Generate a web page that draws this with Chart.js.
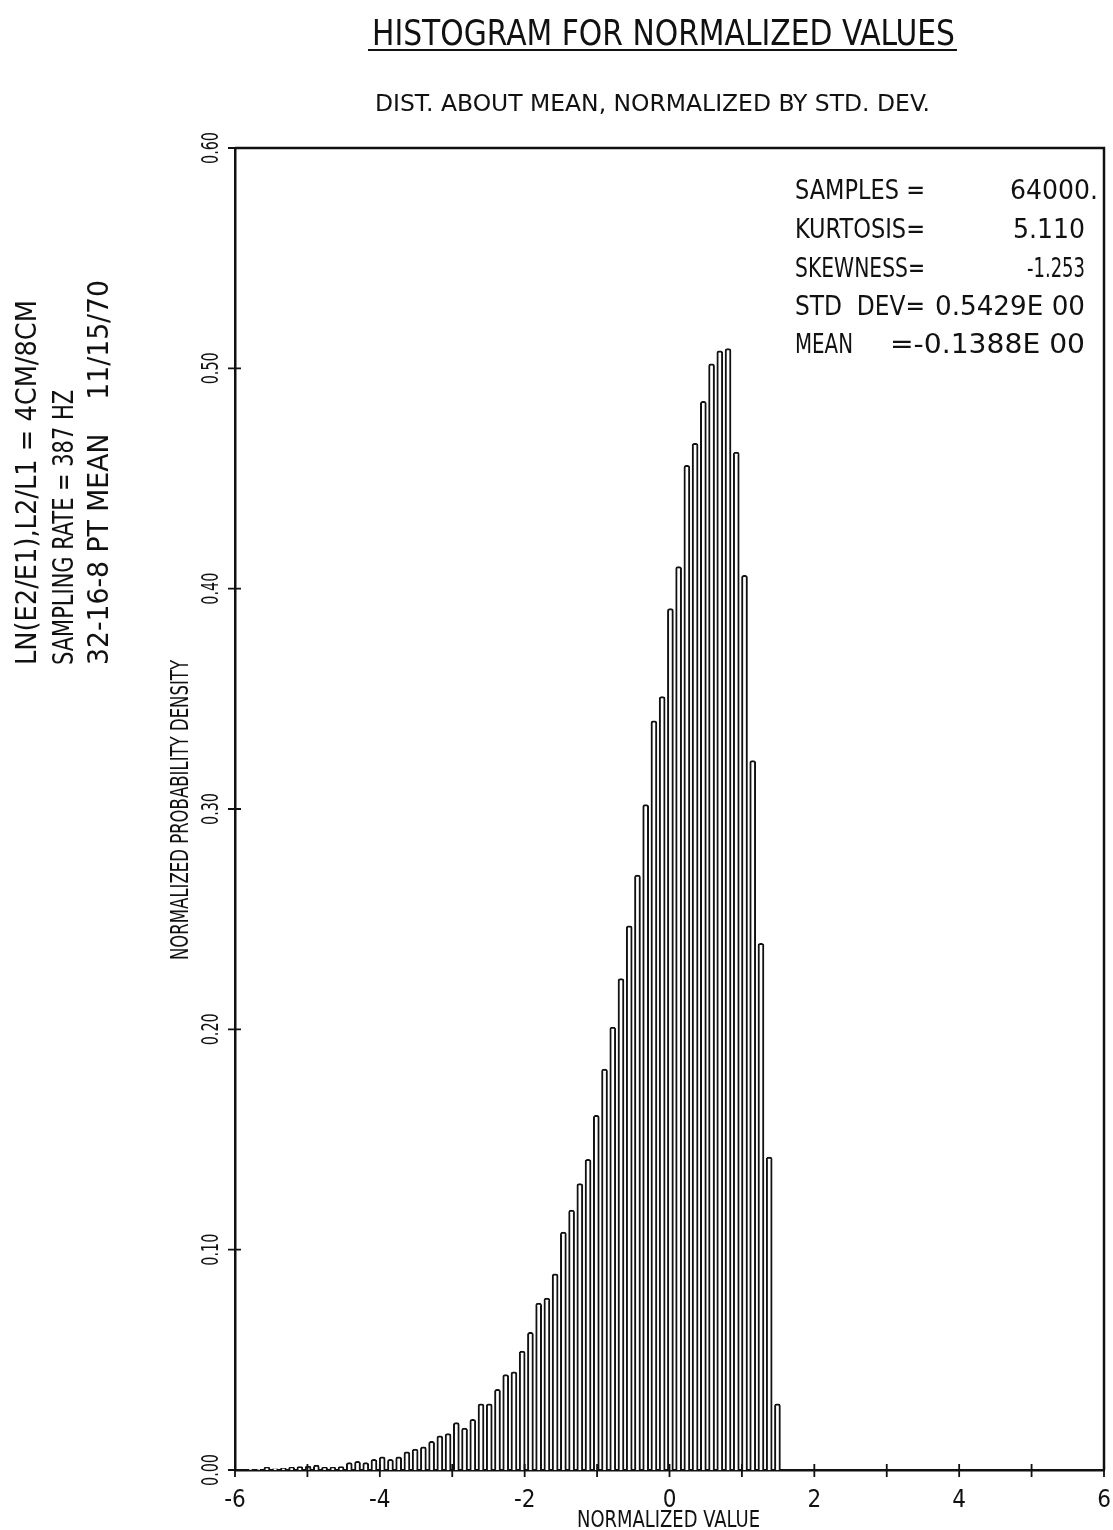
<!DOCTYPE html>
<html>
<head>
<meta charset="utf-8">
<title>Histogram for normalized values</title>
<script src="https://cdn.jsdelivr.net/npm/chart.js@4.4.1/dist/chart.umd.min.js"></script>
<style>
  html, body { margin: 0; padding: 0; background: #fff; }
  #wrap { width: 1113px; height: 1530px; }
</style>
</head>
<body>
<div id="wrap"><canvas id="histChart" width="1113" height="1530"></canvas></div>
<script>
// histogram bins (normalized value), left edge centre and width
const binStart = -5.90;
const binWidth = 0.1137;

// normalized probability density, left to right
const densities = [
    0, 0.0003, 0.0003, 0.0012, 0.0005, 0.0008, 0.0012, 0.0015, 0.0018, 0.0022,
    0.0012, 0.0012, 0.0015, 0.0034, 0.0039, 0.0034, 0.0048, 0.006, 0.0048, 0.006,
    0.0082, 0.0095, 0.0105, 0.013, 0.0155, 0.0165, 0.0215, 0.019, 0.023, 0.030,
    0.030, 0.0366, 0.0433, 0.0446, 0.054, 0.0625, 0.0758, 0.078, 0.089, 0.108,
    0.118, 0.130, 0.141, 0.161, 0.182, 0.201, 0.223, 0.247, 0.270, 0.302,
    0.340, 0.351, 0.391, 0.410, 0.456, 0.466, 0.485, 0.502, 0.508, 0.509,
    0.462, 0.406, 0.322, 0.239, 0.142, 0.030
];

const xTickValues = [-6, -4, -2, 0, 2, 4, 6];
const yTickLabels = ['0.00', '0.10', '0.20', '0.30', '0.40', '0.50', '0.60'];

const titleText = 'HISTOGRAM FOR NORMALIZED VALUES';
const subtitleText = 'DIST. ABOUT MEAN, NORMALIZED BY STD. DEV.';
const xTitle = 'NORMALIZED VALUE';
const yTitle = 'NORMALIZED PROBABILITY DENSITY';
const sideNotes = ['LN(E2/E1),L2/L1 = 4CM/8CM', 'SAMPLING RATE = 387 HZ', '32-16-8 PT MEAN    11/15/70'];
const statNames = ['SAMPLES =', 'KURTOSIS=', 'SKEWNESS=', 'STD  DEV=', 'MEAN'];
const statValues = ['64000.', '5.110', '-1.253', '0.5429E 00', '=-0.1388E 00'];

const FONT = '"Liberation Sans Narrow", "DejaVu Sans Condensed", sans-serif';
const INK = '#111';

// draw text stretched to a given width and cap height, (x,y) = start of baseline
function fitText(ctx, str, x, y, width, cap, angle) {
    ctx.save();
    ctx.font = (cap / 0.72).toFixed(1) + 'px ' + FONT;
    const w = ctx.measureText(str).width;
    ctx.translate(x, y);
    ctx.rotate(angle || 0);
    ctx.scale(width / w, 1);
    ctx.fillStyle = INK;
    ctx.textAlign = 'left';
    ctx.textBaseline = 'alphabetic';
    ctx.fillText(str, 0, 0);
    ctx.restore();
}

const paperPlugin = {
    id: 'paper',
    beforeDraw(chart) {
        const c = chart.ctx;
        c.save();
        c.fillStyle = '#fff';
        c.fillRect(0, 0, chart.width, chart.height);
        c.restore();
    },
    afterDraw(chart) {
        const c = chart.ctx;
        const a = chart.chartArea;
        const xs = chart.scales.x;
        const ys = chart.scales.y;
        const up = -Math.PI / 2;

        // top and right frame
        c.save();
        c.strokeStyle = INK;
        c.lineWidth = 2.5;
        c.beginPath();
        c.moveTo(a.left, a.top);
        c.lineTo(a.right, a.top);
        c.lineTo(a.right, a.bottom);
        c.stroke();

        // crossing tick marks
        c.lineWidth = 1.8;
        c.beginPath();
        xs.ticks.forEach(t => {
            const px = xs.getPixelForValue(t.value);
            c.moveTo(px, a.bottom - 6);
            c.lineTo(px, a.bottom + 7);
        });
        ys.ticks.forEach(t => {
            const py = ys.getPixelForValue(t.value);
            c.moveTo(a.left - 7, py);
            c.lineTo(a.left + 6, py);
        });
        c.stroke();
        c.restore();

        // y tick labels, written upward
        yTickLabels.forEach((lab, i) => {
            const py = ys.getPixelForValue(i / 10);
            fitText(c, lab, 218, py + 16, 32, 16, up);
        });

        // titles
        fitText(c, titleText, 372, 45, 583, 25);
        c.save();
        c.strokeStyle = INK;
        c.lineWidth = 2;
        c.beginPath();
        c.moveTo(368, 50);
        c.lineTo(957, 50);
        c.stroke();
        c.restore();
        fitText(c, subtitleText, 375, 111, 555, 16);

        fitText(c, xTitle, 577, 1527, 183, 17);
        fitText(c, yTitle, 188, 960, 300, 18, up);

        // side notes
        const noteX = [36, 73, 108];
        const noteLen = [365, 275, 385];
        sideNotes.forEach((s, i) => fitText(c, s, noteX[i], 665, noteLen[i], 21, up));

        // statistics box
        const rowY = [199, 238, 277, 315, 353];
        const nameW = [130, 130, 130, 130, 58];
        const valX = [1010, 1013, 1027, 935, 890];
        const valW = [88, 72, 58, 150, 195];
        statNames.forEach((s, i) => {
            fitText(c, s, 795, rowY[i], nameW[i], 19);
            fitText(c, statValues[i], valX[i], rowY[i], valW[i], 19);
        });
    }
};

const points = densities.map((d, i) => ({ x: binStart + i * binWidth, y: d }));

const ctx = document.getElementById('histChart').getContext('2d');
new Chart(ctx, {
    type: 'bar',
    data: {
        datasets: [{
            data: points,
            backgroundColor: '#fff',
            borderColor: INK,
            borderWidth: 2,
            borderSkipped: 'bottom',
            borderRadius: { topLeft: 2.5, topRight: 2.5 },
            barThickness: 6
        }]
    },
    options: {
        responsive: false,
        animation: false,
        devicePixelRatio: 1,
        layout: { padding: { top: 148, right: 9, left: 0, bottom: 0 } },
        plugins: {
            legend: { display: false },
            tooltip: { enabled: false }
        },
        scales: {
            x: {
                type: 'linear',
                min: -6,
                max: 6,
                offset: false,
                grid: { display: false, offset: false },
                border: { display: true, color: INK, width: 2.5 },
                ticks: {
                    stepSize: 1,
                    autoSkip: false,
                    maxRotation: 0,
                    padding: 8,
                    color: INK,
                    font: { family: FONT, size: 24 },
                    callback: v => (xTickValues.includes(v) ? String(v) : '')
                },
                afterFit: s => {
                    s.height = 60;
                    s.paddingLeft = 0;
                    s.paddingRight = 0;
                }
            },
            y: {
                min: 0,
                max: 0.6,
                grid: { display: false },
                border: { display: true, color: INK, width: 2.5 },
                ticks: { display: false, stepSize: 0.1 },
                afterFit: s => { s.width = 235; }
            }
        }
    },
    plugins: [paperPlugin]
});
</script>
</body>
</html>
